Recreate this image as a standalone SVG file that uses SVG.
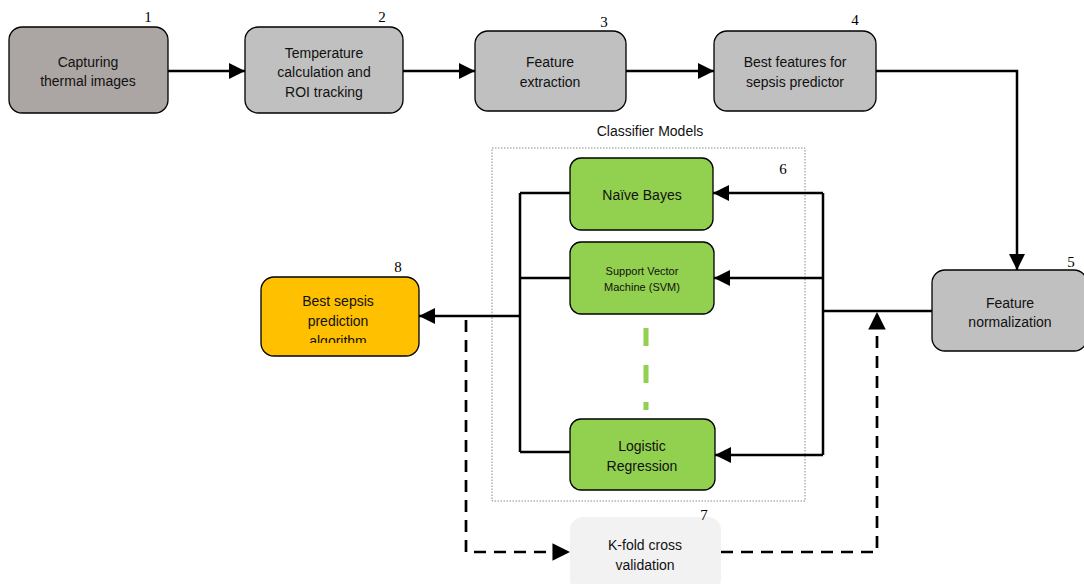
<svg xmlns="http://www.w3.org/2000/svg" width="1084" height="584" viewBox="0 0 1084 584">
<style>
.box{stroke:#000;stroke-width:1.3}
.t{font-family:"Liberation Sans",Arial,sans-serif;font-size:14px;fill:#111;text-anchor:middle}
.ts{font-family:"Liberation Sans",Arial,sans-serif;font-size:11px;fill:#111;text-anchor:middle}
.n{font-family:"Liberation Serif","Times New Roman",serif;font-size:15px;fill:#000;text-anchor:middle}
.c{fill:none;stroke:#000;stroke-width:2.5}
.d{fill:none;stroke:#000;stroke-width:2.7;stroke-dasharray:12,8}
</style>
<defs>
<marker id="ah" viewBox="0 0 10 10" refX="10" refY="5" markerWidth="6.5" markerHeight="6.5" markerUnits="strokeWidth" orient="auto">
<path d="M0,0 L10,5 L0,10 z" fill="#000"/>
</marker>
<clipPath id="clip8"><rect x="261" y="277" width="158" height="66"/></clipPath>
</defs>
<rect x="492" y="148" width="313" height="353" fill="none" stroke="#888" stroke-width="1" stroke-dasharray="1.5,1.5"/>
<text class="t" x="650" y="136" font-size="13">Classifier Models</text>
<g id="connectors">
<line class="c" x1="168" y1="71" x2="245" y2="71" marker-end="url(#ah)"/>
<line class="c" x1="403" y1="71" x2="475" y2="71" marker-end="url(#ah)"/>
<line class="c" x1="626" y1="71" x2="714" y2="71" marker-end="url(#ah)"/>
<polyline class="c" points="876,71 1017,71 1017,270" marker-end="url(#ah)"/>
<polyline class="c" points="932,311 823,311"/>
<line class="c" x1="823" y1="193" x2="823" y2="455"/>
<line class="c" x1="823" y1="193" x2="713" y2="193" marker-end="url(#ah)"/>
<line class="c" x1="823" y1="278" x2="714" y2="278" marker-end="url(#ah)"/>
<line class="c" x1="823" y1="455" x2="715" y2="455" marker-end="url(#ah)"/>
<line class="c" x1="520" y1="193" x2="520" y2="452"/>
<line class="c" x1="520" y1="193" x2="570" y2="193"/>
<line class="c" x1="520" y1="278" x2="570" y2="278"/>
<line class="c" x1="520" y1="452" x2="570" y2="452"/>
<line class="c" x1="520" y1="316" x2="419" y2="316" marker-end="url(#ah)"/>
<polyline class="d" points="466,320 466,552 570,552" marker-end="url(#ah)"/>
<polyline class="d" points="721,552 877,552 877,312" marker-end="url(#ah)"/>
<line x1="646" y1="328" x2="646" y2="410" stroke="#92d050" stroke-width="5" stroke-dasharray="18,19"/>
</g>
<g id="node1">
<rect class="box" x="9" y="27" width="159" height="86" rx="13" fill="#aba6a3"/>
<text class="t" x="88" y="67">Capturing</text>
<text class="t" x="88" y="86">thermal images</text>
<text class="n" x="148" y="22">1</text>
</g>
<g id="node2">
<rect class="box" x="245" y="27" width="158" height="86" rx="13" fill="#c0c0c0"/>
<text class="t" x="324" y="58">Temperature</text>
<text class="t" x="324" y="77">calculation and</text>
<text class="t" x="324" y="97">ROI tracking</text>
<text class="n" x="382" y="22">2</text>
</g>
<g id="node3">
<rect class="box" x="475" y="31" width="151" height="80" rx="13" fill="#c0c0c0"/>
<text class="t" x="550" y="67">Feature</text>
<text class="t" x="550" y="87">extraction</text>
<text class="n" x="604" y="27">3</text>
</g>
<g id="node4">
<rect class="box" x="714" y="31" width="162" height="80" rx="13" fill="#c0c0c0"/>
<text class="t" x="795" y="67">Best features for</text>
<text class="t" x="795" y="87">sepsis predictor</text>
<text class="n" x="855" y="25">4</text>
</g>
<g id="node5">
<rect class="box" x="932" y="270" width="155" height="81" rx="13" fill="#c0c0c0"/>
<text class="t" x="1010" y="308">Feature</text>
<text class="t" x="1010" y="327">normalization</text>
<text class="n" x="1071" y="267">5</text>
</g>
<g id="node6">
<rect class="box" x="570" y="158" width="143" height="72" rx="11" fill="#92d050"/>
<text class="t" x="642" y="200">Naïve Bayes</text>
<text class="n" x="783" y="174">6</text>
</g>
<g id="nodeSVM">
<rect class="box" x="570" y="242" width="144" height="72" rx="11" fill="#92d050"/>
<text class="ts" x="642" y="275">Support Vector</text>
<text class="ts" x="642" y="291">Machine (SVM)</text>
</g>
<g id="nodeLR">
<rect class="box" x="570" y="419" width="145" height="71" rx="11" fill="#92d050"/>
<text class="t" x="642" y="451">Logistic</text>
<text class="t" x="642" y="471">Regression</text>
</g>
<g id="node8">
<rect class="box" x="261" y="277" width="158" height="79" rx="13" fill="#ffc000"/>
<g clip-path="url(#clip8)">
<text class="t" x="338" y="306">Best sepsis</text>
<text class="t" x="338" y="326">prediction</text>
<text class="t" x="338" y="346">algorithm</text>
</g>
<text class="n" x="398" y="272">8</text>
</g>
<g id="node7">
<rect x="570" y="517" width="151" height="75" rx="13" fill="#f2f2f2"/>
<text class="t" x="645" y="550">K-fold cross</text>
<text class="t" x="645" y="570">validation</text>
<text class="n" x="704" y="520">7</text>
</g>
</svg>
